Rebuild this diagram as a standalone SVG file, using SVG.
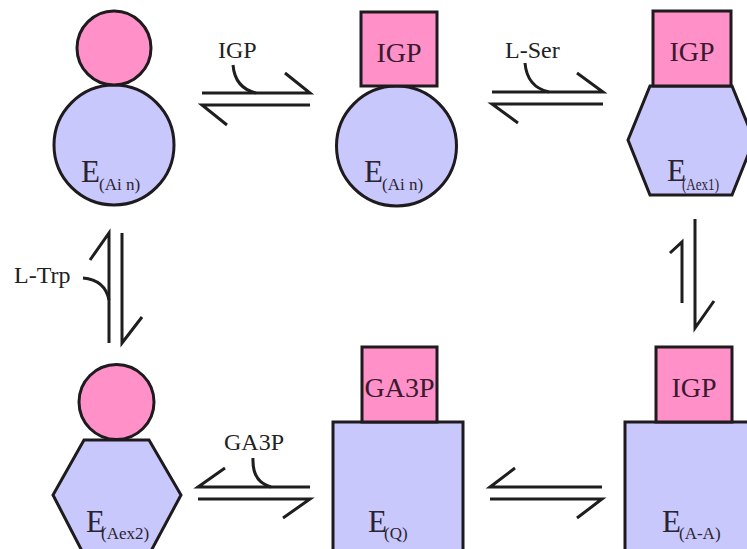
<svg xmlns="http://www.w3.org/2000/svg" width="747" height="549" viewBox="0 0 747 549">
<style>
.pink{fill:#ff91c8;stroke:#1e1a1e;stroke-width:3}
.blue{fill:#c9c8fc;stroke:#1e1a1e;stroke-width:3}
.ln{fill:none;stroke:#1e1e1e;stroke-width:3;stroke-linecap:butt}
text{font-family:"Liberation Serif","Times New Roman","DejaVu Serif",serif}
.E{font-size:31px;fill:#2a2430}
.sub{font-size:17px;fill:#2a2430}
.lig{font-size:28px;fill:#3a1a2e;text-anchor:middle}
.lab{font-size:24px;fill:#222}
</style>
<rect width="747" height="549" fill="#fff"/>
<g id="node1">
<circle class="blue" cx="114" cy="145" r="60"/>
<circle class="pink" cx="114" cy="48" r="37"/>
<text class="E" x="81" y="182" font-family="Liberation Serif, serif">E</text><text class="sub" x="99" y="190" font-family="Liberation Serif, serif">(Ai n)</text>
</g>
<g id="node2">
<circle class="blue" cx="396.5" cy="146" r="60"/>
<rect class="pink" x="361" y="12" width="76" height="74"/>
<text class="lig" x="399" y="62" font-family="Liberation Serif, serif">IGP</text>
<text class="E" x="364" y="182" font-family="Liberation Serif, serif">E</text><text class="sub" x="382" y="190" font-family="Liberation Serif, serif">(Ai n)</text>
</g>
<g id="node3">
<polygon class="blue" points="650,86 732,86 754,140 732,195 650,195 628,140"/>
<rect class="pink" x="653" y="11" width="78" height="75"/>
<text class="lig" x="692" y="61" font-family="Liberation Serif, serif">IGP</text>
<text class="E" x="667" y="181" font-family="Liberation Serif, serif">E</text><text class="sub" x="682" y="190" font-size="15" textLength="37" lengthAdjust="spacingAndGlyphs" font-family="Liberation Serif, serif">(Aex1)</text>
</g>
<g id="node4">
<polygon class="blue" points="84,440 149,440 181,495 151,551 82,551 53,495"/>
<circle class="pink" cx="116.5" cy="402" r="37.5"/>
<text class="E" x="86" y="532" font-family="Liberation Serif, serif">E</text><text class="sub" x="101" y="539" font-family="Liberation Serif, serif">(Aex2)</text>
</g>
<g id="node5">
<rect class="blue" x="333" y="422" width="130" height="130"/>
<rect class="pink" x="362" y="347" width="75" height="75"/>
<text class="lig" x="399.5" y="397" font-size="27" font-family="Liberation Serif, serif">GA3P</text>
<text class="E" x="368" y="532" font-family="Liberation Serif, serif">E</text><text class="sub" x="384" y="539" font-family="Liberation Serif, serif">(Q)</text>
</g>
<g id="node6">
<rect class="blue" x="625" y="422" width="135" height="130"/>
<rect class="pink" x="656" y="347" width="76" height="75"/>
<text class="lig" x="694" y="397" font-family="Liberation Serif, serif">IGP</text>
<text class="E" x="662" y="532" font-family="Liberation Serif, serif">E</text><text class="sub" x="679" y="539" font-family="Liberation Serif, serif">(A-A)</text>
</g>
<g id="connectors">
<path class="ln" d="M202,93 H310 L285,73"/>
<path class="ln" d="M310,105 H202 L227,125"/>
<path class="ln" d="M233,65 Q235,88 256,93"/>
<text class="lab" x="218" y="58" font-family="Liberation Serif, serif">IGP</text>
<path class="ln" d="M492,92 H603 L577,73"/>
<path class="ln" d="M603,104 H492 L518,123"/>
<path class="ln" d="M525,63 Q527,87 549,92"/>
<text class="lab" x="505" y="58" font-family="Liberation Serif, serif">L-Ser</text>
<path class="ln" d="M695,219 V328 L714,301"/>
<path class="ln" d="M682,303 V242 L670,253"/>
<path class="ln" d="M602,487 H490 L515,468"/>
<path class="ln" d="M490,499 H602 L577,518"/>
<path class="ln" d="M310,487 H198 L225,468"/>
<path class="ln" d="M198,499 H310 L283,518"/>
<path class="ln" d="M253,458 Q252,482 271,487"/>
<text class="lab" x="224" y="450" font-family="Liberation Serif, serif">GA3P</text>
<path class="ln" d="M109,343 V233 L90,260"/>
<path class="ln" d="M122,233 V343 L142,317"/>
<path class="ln" d="M83,278 Q105,280 109,300"/>
<text class="lab" x="14" y="283" font-family="Liberation Serif, serif">L-Trp</text>
</g>
</svg>
